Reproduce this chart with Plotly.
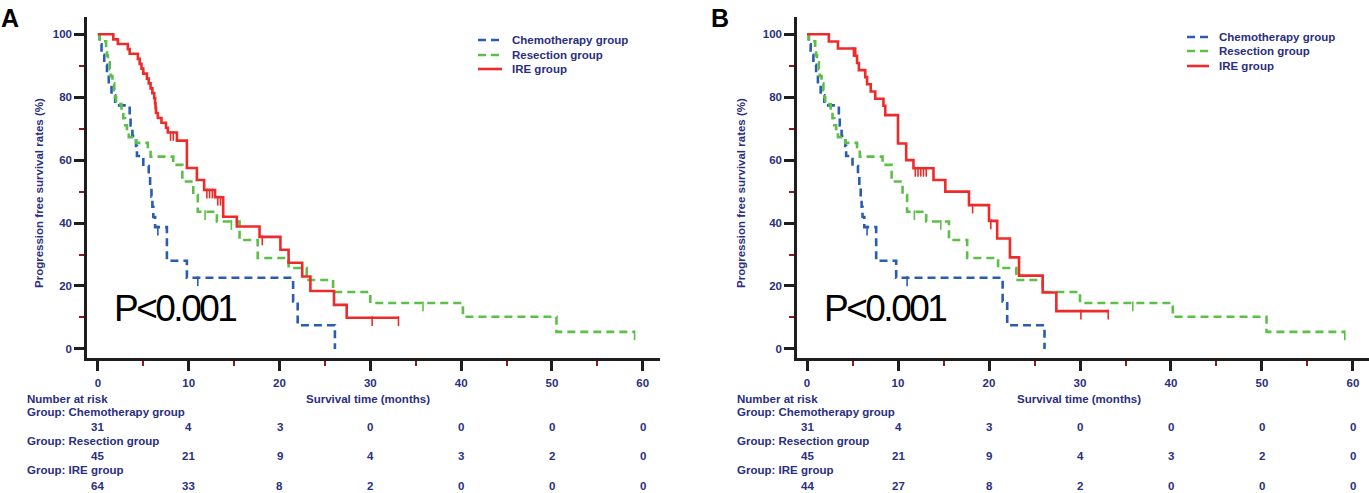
import numpy as np
import plotly.graph_objects as go

W, H = 1369, 493

# ---------------- data ----------------
month_ticks = [0, 10, 20, 30, 40, 50, 60]

chemo_t = [0, 0.2, 0.4, 0.7, 1.0, 1.2, 1.5, 1.9, 3.5, 3.6, 3.8, 4.2, 4.3, 5.0, 5.6, 5.75,
           5.9, 6.0, 6.1, 6.3, 7.6, 9.8, 21.5, 22.0, 26.1]
chemo_s = [100, 96.8, 93.5, 90.3, 87.1, 83.9, 80.6, 77.4, 74.2, 71.0, 67.7, 64.5, 61.3, 58.1,
           54.8, 51.6, 48.4, 45.2, 41.9, 38.7, 28.0, 22.6, 15.1, 7.5, 0]
chemo_cens = [6.6, 11.0]

resec_t = [0, 0.2, 0.9, 1.0, 1.1, 1.3, 1.4, 1.6, 1.8, 1.9, 2.0, 2.6, 2.8, 3.0, 3.2, 3.4, 4.2,
           5.5, 5.8, 8.3, 9.3, 10.5, 11.0, 13.1, 15.6, 17.6, 21.0, 23.0, 25.9, 30.0, 40.2, 50.5, 59.1]
resec_s = [100, 97.8, 95.6, 93.3, 91.1, 88.9, 86.7, 84.4, 82.2, 80.0, 77.8, 75.6, 73.3, 71.1,
           68.9, 67.3, 65.5, 63.3, 61.1, 58.5, 53.2, 48.9, 43.6, 40.5, 34.6, 28.9, 25.7, 21.9,
           18.1, 14.6, 10.2, 5.4, 5.4]
resec_cens = [11.8, 14.7, 35.8, 59.1]

ire_a_t = [0, 1.7, 2.2, 3.3, 3.5, 4.4, 4.6, 4.8, 5.0, 5.4, 5.6, 5.8, 6.0, 6.2, 6.3, 6.35, 6.4,
           6.6, 7.0, 7.5, 7.7, 8.7, 9.8, 10.9, 11.7, 12.9, 13.8, 15.3, 17.8, 20.1, 21.0, 22.5,
           23.4, 26.0, 27.4, 33.1]
ire_a_s = [100, 98.4, 96.9, 95.3, 93.8, 92.2, 90.6, 89.1, 87.5, 85.9, 84.4, 82.8, 81.3, 79.7,
           78.1, 76.6, 75.0, 73.4, 71.9, 70.3, 68.8, 66.2, 57.5, 53.7, 50.5, 48.2, 42.0, 38.9,
           35.6, 31.5, 27.4, 23.0, 18.4, 14.0, 9.9, 9.9]
ire_a_cens = [8.0, 8.3, 12.0, 12.3, 12.6, 13.2, 13.5, 18.1, 30.2, 33.1]

ire_b_t = [0, 2.4, 3.4, 5.3, 5.5, 5.7, 6.4, 6.6, 7.0, 7.5, 8.4, 8.6, 10.0, 10.9, 11.7, 13.9,
           15.2, 17.8, 20.0, 20.9, 22.3, 23.3, 25.9, 27.4, 33.1]
ire_b_s = [100, 97.7, 95.5, 93.2, 90.9, 88.6, 86.4, 84.1, 81.8, 79.5, 77.3, 74.3, 65.3, 60.0,
           57.4, 53.7, 50.0, 45.7, 40.7, 35.1, 29.1, 23.3, 17.9, 12.0, 12.0]
ire_b_cens = [5.1, 11.9, 12.2, 12.5, 12.8, 13.1, 18.2, 20.2, 30.1, 33.1]

risk_chemo = [31, 4, 3, 0, 0, 0, 0]
risk_resec = [45, 21, 9, 4, 3, 2, 0]
risk_ire_a = [64, 33, 8, 2, 0, 0, 0]
risk_ire_b = [44, 27, 8, 2, 0, 0, 0]

group_names = ["Chemotherapy group", "Resection group", "IRE group"]

# ---------------- style ----------------
NAVY = "#2a2f7e"
BLUE = "#2a5db0"
GREEN = "#5cbf48"
RED = "#ee2b2b"
AXC = "#1e1e1e"
MINC = "#8c1a1a"
FONT = "Liberation Sans, Arial, sans-serif"
FS = 11.5
DASHES = ["8px,5px", "8px,5px", "solid"]
COLORS = [BLUE, GREEN, RED]


def px(x):
    return x / W


def py(y):
    return 1 - y / H


def step_at(ts, ss, t):
    ts = np.asarray(ts)
    idx = np.searchsorted(ts, t, side="right") - 1
    return np.asarray(ss)[idx]


fig = go.Figure()

panels = [
    dict(xa="x", ya="y", ire=(ire_a_t, ire_a_s, ire_a_cens)),
    dict(xa="x2", ya="y2", ire=(ire_b_t, ire_b_s, ire_b_cens)),
]

for p in panels:
    series = [
        (group_names[0], chemo_t, chemo_s, chemo_cens),
        (group_names[1], resec_t, resec_s, resec_cens),
        (group_names[2], p["ire"][0], p["ire"][1], p["ire"][2]),
    ]
    for (name, t, s, cens), col, dash in zip(series, COLORS, DASHES):
        fig.add_trace(go.Scatter(
            x=t, y=s, mode="lines", name=name, showlegend=False,
            line=dict(color=col, width=2.6, dash=dash, shape="hv"),
            xaxis=p["xa"], yaxis=p["ya"], hoverinfo="skip"))
    for (name, t, s, cens), col in zip(series, COLORS):
        cy = step_at(t, s, cens) - 1.1
        fig.add_trace(go.Scatter(
            x=cens, y=cy, mode="markers", showlegend=False,
            marker=dict(symbol="line-ns", size=7, line=dict(color=col, width=1.6)),
            xaxis=p["xa"], yaxis=p["ya"], hoverinfo="skip"))

tickfont = dict(family=FONT, size=FS, color=NAVY, weight="bold")


def xaxis(dom, rng, anchor):
    return dict(domain=dom, range=rng, anchor=anchor, tickvals=month_ticks, ticks="outside",
                ticklen=10, tickwidth=2.5, tickcolor=AXC, showline=True, linewidth=2.5,
                linecolor=AXC, showgrid=False, zeroline=False, tickfont=tickfont,
                ticklabelstandoff=2,
                minor=dict(dtick=5, tick0=0, ticks="outside", ticklen=5, tickwidth=2,
                           tickcolor=MINC, showgrid=False))


def yaxis(anchor):
    return dict(domain=[py(358), py(17)], range=[-2.9, 105.5], anchor=anchor, tick0=0, dtick=20,
                ticks="outside", ticklen=10, tickwidth=2.5, tickcolor=AXC, showline=True,
                linewidth=2.5, linecolor=AXC, showgrid=False, zeroline=False, tickfont=tickfont,
                ticklabelstandoff=0,
                minor=dict(dtick=10, tick0=0, ticks="outside", ticklen=5, tickwidth=2,
                           tickcolor=MINC, showgrid=False))


fig.update_layout(
    width=W, height=H, autosize=False,
    margin=dict(l=0, r=0, t=0, b=0),
    paper_bgcolor="white", plot_bgcolor="white",
    font=dict(family=FONT, color=NAVY),
    showlegend=False,
    xaxis=xaxis([px(87), px(660)], [-1.2, 61.9], "y"),
    yaxis=yaxis("x"),
    xaxis2=xaxis([px(797), 1.0], [-1.1, 61.76], "y2"),
    yaxis2=yaxis("x2"),
)

ann = []
shapes = []
txt = dict(family=FONT, size=FS, color=NAVY, weight="bold")

# legend boxes (sample line start/end, text x, row y's) for both panels
legend_layout = [
    dict(x0=478, x1=502, tx=510, rows=[40, 55, 69]),
    dict(x0=1187, x1=1209, tx=1217, rows=[37, 51, 66]),
]
for lg in legend_layout:
    for name, col, dash, ry in zip(group_names, COLORS, DASHES, lg["rows"]):
        shapes.append(dict(type="line", xref="paper", yref="paper", x0=px(lg["x0"]),
                           x1=px(lg["x1"]), y0=py(ry), y1=py(ry),
                           line=dict(color=col, width=2.6, dash=dash)))
        ann.append(dict(text=name, x=px(lg["tx"]), y=py(ry), xref="paper", yref="paper",
                        xanchor="left", yanchor="middle", showarrow=False, font=txt))

for off, xr, letter, risk_ire, surv_cx in [(0, "x", "A", risk_ire_a, 368),
                                           (710, "x2", "B", risk_ire_b, 1079)]:
    ann.append(dict(text=letter, x=px(-1 + off), y=py(2), xref="paper", yref="paper",
                    xanchor="left", yanchor="top", showarrow=False,
                    font=dict(family=FONT, size=25, color="black", weight="bold")))
    ann.append(dict(text="Progression free survival rates (%)", x=px(31 + off), y=py(193),
                    xref="paper", yref="paper", textangle=-90, showarrow=False,
                    font=dict(family=FONT, size=11.5, color=NAVY, weight="bold")))
    ann.append(dict(text='<span style="letter-spacing:-2.5px">P&lt;0.001</span>',
                    x=px(112 + off), y=py(308), xref="paper", yref="paper",
                    xanchor="left", yanchor="middle", showarrow=False,
                    font=dict(family=FONT, size=37, color="black")))
    ann.append(dict(text="Number at risk", x=px(25 + off), y=py(399), xref="paper", yref="paper",
                    xanchor="left", yanchor="middle", showarrow=False, font=txt))
    ann.append(dict(text="Survival time (months)", x=px(surv_cx), y=py(399), xref="paper",
                    yref="paper", xanchor="center", yanchor="middle", showarrow=False, font=txt))
    rows = [(risk_chemo, 412, 427), (risk_resec, 441, 456), (risk_ire, 470, 486)]
    for (vals, gy, vy), gname in zip(rows, group_names):
        ann.append(dict(text="Group: " + gname, x=px(25 + off), y=py(gy), xref="paper",
                        yref="paper", xanchor="left", yanchor="middle", showarrow=False, font=txt))
        for m, v in zip(month_ticks, vals):
            ann.append(dict(text=str(v), x=m, y=py(vy), xref=xr, yref="paper",
                            xanchor="center", yanchor="middle", showarrow=False, font=txt))

fig.update_layout(annotations=ann, shapes=shapes)
fig.write_html("out.html", config={"displayModeBar": False},
               post_script="document.body.style.margin='0px';")
